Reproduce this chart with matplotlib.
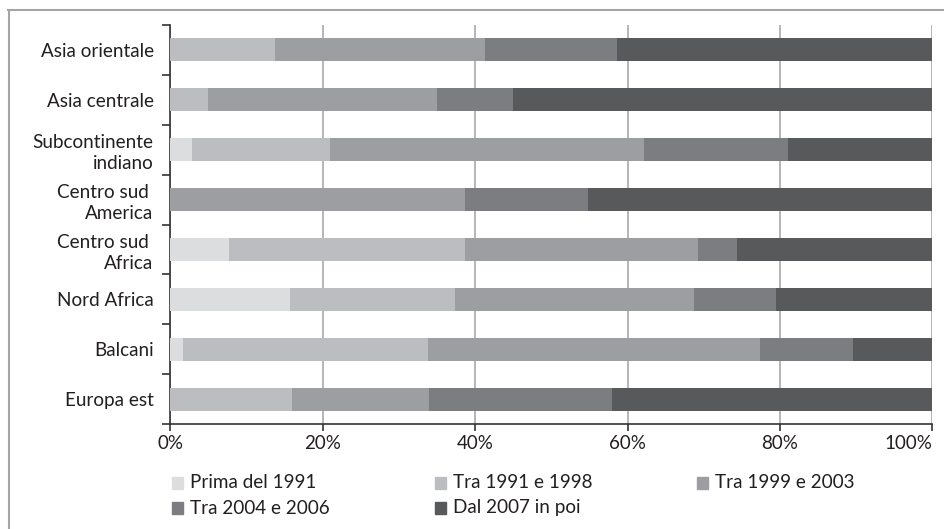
import matplotlib
matplotlib.use("Agg")
import matplotlib.pyplot as plt
import numpy as np
from matplotlib.lines import Line2D
from matplotlib.patches import Rectangle

plt.rcParams["font.family"] = ["Lato", "DejaVu Sans"]

regions = ["Europa est", "Balcani", "Nord Africa", "Centro sud \nAfrica",
           "Centro sud \nAmerica", "Subcontinente\nindiano", "Asia centrale",
           "Asia orientale"]
periods = ["Prima del 1991", "Tra 1991 e 1998", "Tra 1999 e 2003",
           "Tra 2004 e 2006", "Dal 2007 in poi"]

# shares (%) per region, bottom to top
prima_1991 = [0.0, 1.7, 15.7, 7.7, 0.0, 2.9, 0.0, 0.0]
tra_1991_1998 = [16.0, 32.1, 21.7, 30.9, 0.0, 18.1, 5.0, 13.7]
tra_1999_2003 = [18.0, 43.6, 31.3, 30.7, 38.7, 41.1, 30.0, 27.6]
tra_2004_2006 = [24.0, 12.2, 10.8, 5.1, 16.1, 19.0, 10.0, 17.3]
dal_2007 = [42.0, 10.4, 20.5, 25.6, 45.2, 18.9, 55.0, 41.4]

colors = ["#dcdddf", "#bcbdc0", "#9d9ea2", "#7c7d81", "#58595b"]


def main() -> None:
    series = [prima_1991, tra_1991_1998, tra_1999_2003, tra_2004_2006, dal_2007]
    y = np.arange(len(regions))

    fig = plt.figure(figsize=(9.44, 5.29), dpi=100)
    ax = fig.add_axes([0.1804, 0.1979, 0.8074, 0.7554])

    left = np.zeros(len(regions))
    for vals, col, lab in zip(series, colors, periods):
        vals = np.array(vals)
        ax.barh(y, vals, left=left, height=0.46, color=col, label=lab, zorder=3)
        left += vals

    ax.set_xlim(0, 100)
    ax.set_ylim(-0.5, len(regions) - 0.5)
    ax.set_xticks(np.arange(0, 101, 20))
    ax.set_xticklabels([f"{v}%" for v in range(0, 101, 20)], fontsize=13.5, color="#231f20")
    ax.get_xticklabels()[-1].set_horizontalalignment("right")
    ax.set_yticks(y)
    ax.set_yticklabels(regions, fontsize=13.6, color="#231f20", linespacing=1.3)
    ax.set_yticks(np.arange(-0.5, len(regions)), minor=True)
    ax.tick_params(axis="y", which="major", length=0, pad=12)
    ax.tick_params(axis="y", which="minor", length=6, width=1.2, color="#333333")
    ax.tick_params(axis="x", which="major", length=5, width=1.2, color="#333333", pad=3)
    ax.grid(axis="x", color="#b5b5b5", linewidth=1.4, zorder=0)
    for side in ("top", "right"):
        ax.spines[side].set_visible(False)
    for side in ("left", "bottom"):
        ax.spines[side].set_color("#333333")
        ax.spines[side].set_linewidth(1.2)

    # legend laid out in two rows of three columns
    col_x = [172, 435, 697]
    row_y = [483, 508]
    for i, (lab, col) in enumerate(zip(periods, colors)):
        cx = col_x[i % 3] / 944
        cy = 1 - row_y[i // 3] / 529
        fig.patches.append(Rectangle((cx, cy - 6 / 529), 11 / 944, 12 / 529,
                                     transform=fig.transFigure, color=col))
        fig.text(cx + 18 / 944, cy, lab, fontsize=13.6, va="center", color="#231f20")

    # outer frame (top and left edges visible)
    fig.add_artist(Line2D([8 / 944, 1], [1 - 9.5 / 529] * 2, transform=fig.transFigure,
                          color="#a5a5a5", linewidth=1.5))
    fig.add_artist(Line2D([8.5 / 944] * 2, [0, 1 - 9.5 / 529], transform=fig.transFigure,
                          color="#a5a5a5", linewidth=1.5))

    fig.savefig("out.png", dpi=100)
    plt.close(fig)


if __name__ == "__main__":
    main()
